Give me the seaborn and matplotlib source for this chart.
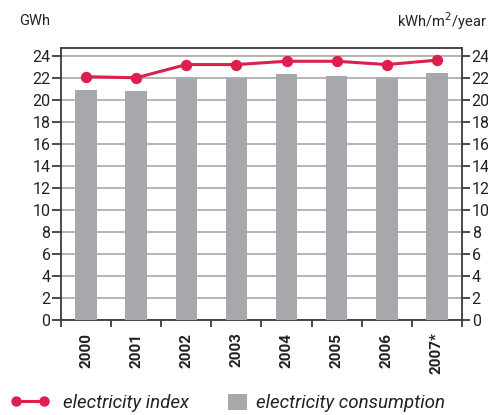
import numpy as np
import pandas as pd
import matplotlib
matplotlib.use("Agg")
import matplotlib.pyplot as plt
import seaborn as sns
from matplotlib.lines import Line2D
from matplotlib.patches import Patch

# Data
years = ["2000", "2001", "2002", "2003", "2004", "2005", "2006", "2007*"]
consumption_gwh = [20.9, 20.8, 22.0, 22.0, 22.3, 22.2, 22.0, 22.4]
index_kwh_m2 = [22.1, 22.0, 23.2, 23.2, 23.5, 23.5, 23.2, 23.6]
y_ticks = list(range(0, 25, 2))

BAR_COLOR = "#a7a8ac"
LINE_COLOR = "#dc1f4b"
AXIS_COLOR = "#3a3a3a"
GRID_COLOR = "#b4b4b4"
TEXT_COLOR = "#222222"

sns.set_theme(style="white")
plt.rcParams["font.family"] = ["Roboto", "DejaVu Sans"]

df = pd.DataFrame({"year": years, "consumption": consumption_gwh, "index": index_kwh_m2})

fig = plt.figure(figsize=(4.89, 4.15), dpi=100)
ax = fig.add_axes([61 / 489, 1 - 320 / 415, 401 / 489, (320 - 47.5) / 415])

sns.barplot(data=df, x="year", y="consumption", color=BAR_COLOR, width=0.43,
            saturation=1, ax=ax, zorder=3, linewidth=0, edgecolor="none")
sns.pointplot(data=df, x="year", y="index", color=LINE_COLOR, markers="o",
              ax=ax, zorder=4, markersize=6.5, linewidth=2.2)

ax.set_xlim(-0.5, len(years) - 0.5)
ax.set_ylim(0, 24.75)
ax.set_yticks(y_ticks)
ax.yaxis.grid(True, color=GRID_COLOR, linewidth=1.4, zorder=0)
ax.set_axisbelow(True)
ax.set_xlabel("")
ax.set_ylabel("")

for s in ax.spines.values():
    s.set_color(AXIS_COLOR)
    s.set_linewidth(1.3)
    s.set_visible(True)

# x ticks at the category boundaries
ax.set_xticks(np.arange(-0.5, len(years), 1.0), minor=True)
ax.tick_params(axis="x", which="minor", length=5, width=1.3, color=AXIS_COLOR,
               direction="out", bottom=True)
ax.tick_params(axis="x", which="major", length=0, pad=9)
ax.set_xticks(range(len(years)))
ax.set_xticklabels(years, rotation=90, fontsize=11, fontweight="bold", color=TEXT_COLOR)
ax.tick_params(axis="y", length=6.5, width=1.3, color=AXIS_COLOR, direction="out",
               labelsize=11.5, labelcolor=TEXT_COLOR, pad=1, left=True)

ax2 = ax.twinx()
ax2.set_ylim(ax.get_ylim())
ax2.set_yticks(y_ticks)
ax2.tick_params(axis="y", length=5.5, width=1.3, color=AXIS_COLOR, direction="out",
                labelsize=11.5, labelcolor=TEXT_COLOR, pad=1.5, right=True)
for s in ax2.spines.values():
    s.set_visible(False)

fig.text(19 / 489, 1 - 21 / 415, "GWh", fontsize=10.5, color=TEXT_COLOR, va="center", ha="left")
fig.text(487 / 489, 1 - 21 / 415, "kWh/m$^2$/year", fontsize=10.5, color=TEXT_COLOR,
         va="center", ha="right")

leg_y = 1 - 403 / 415
leg1 = fig.legend([Line2D([0], [0], color=LINE_COLOR, marker="o", markersize=6.5, linewidth=2.2)],
                  ["electricity index"], loc="center left", bbox_to_anchor=(10 / 489, leg_y),
                  frameon=False, numpoints=2, handlelength=2.13, handletextpad=0.7,
                  borderpad=0, borderaxespad=0, prop={"size": 13.5, "style": "italic"},
                  labelcolor=TEXT_COLOR)
leg2 = fig.legend([Patch(facecolor=BAR_COLOR, edgecolor="none")],
                  ["electricity consumption"], loc="center left",
                  bbox_to_anchor=(228 / 489, leg_y), frameon=False, handlelength=1.0,
                  handleheight=1.0, handletextpad=0.48, borderpad=0, borderaxespad=0,
                  prop={"size": 13.5, "style": "italic"}, labelcolor=TEXT_COLOR)

fig.savefig("out.png", dpi=100)
